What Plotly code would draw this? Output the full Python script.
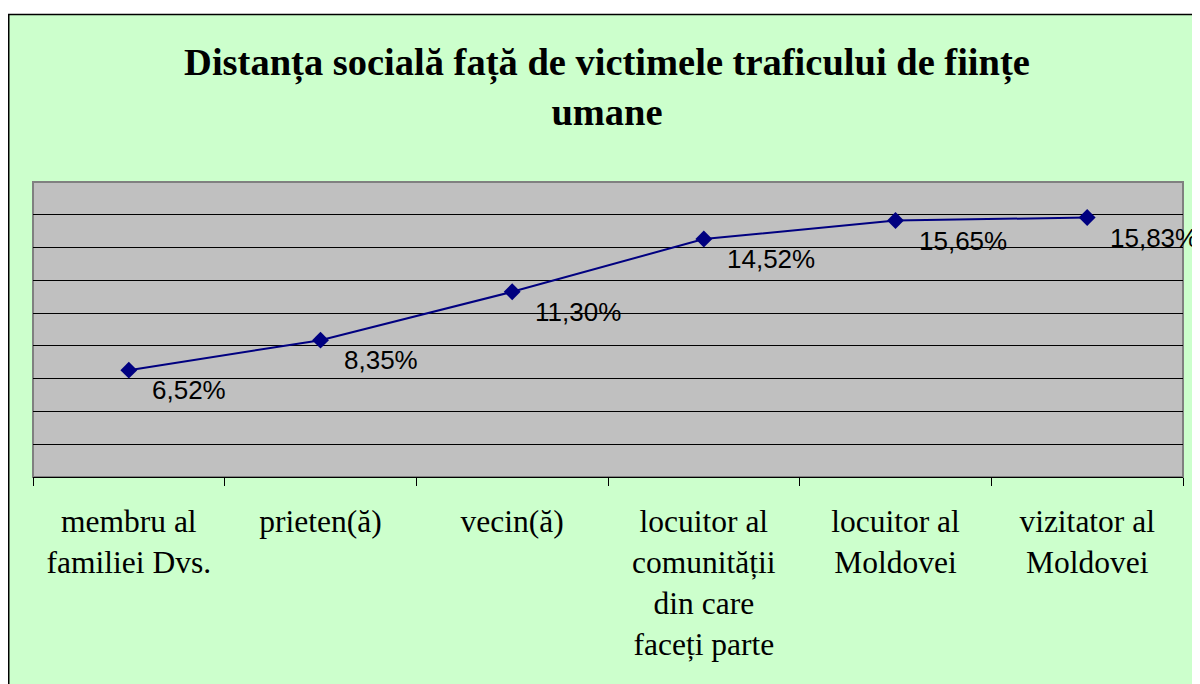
import plotly.graph_objects as go

categories = [
    "membru al<br>familiei Dvs.",
    "prieten(ă)",
    "vecin(ă)",
    "locuitor al<br>comunității<br>din care<br>faceți parte",
    "locuitor al<br>Moldovei",
    "vizitator al<br>Moldovei",
]
values = [6.52, 8.35, 11.30, 14.52, 15.65, 15.83]
title_text = "Distanța socială față de victimele traficului de ființe<br>umane"

# page has an 8px body margin; figure coords = page coords - 8
OFF = 8
W, H = 1192, 676
L = 33 - OFF
T = 182 - OFF
R = W - (1183 - OFF)
B = H - (477 - OFF)
pw, ph = W - L - R, H - T - B


def px_x(p):
    return (p - OFF - L) / pw


def px_y(p):
    return (H - B - (p - OFF)) / ph


fig = go.Figure()
fig.add_trace(go.Scatter(
    x=categories, y=values, mode="lines+markers",
    line=dict(color="#000080", width=2),
    marker=dict(symbol="diamond", size=13, color="#000080"),
    showlegend=False, hoverinfo="skip",
))

for c, v in zip(categories, values):
    fig.add_annotation(
        x=c, y=v, xref="x", yref="y",
        text=f"{v:.2f}%".replace(".", ","),
        showarrow=False, xanchor="left", yanchor="middle",
        xshift=21, yshift=-20,
        font=dict(family="Liberation Sans, Arial", size=26, color="black"),
    )

shapes = [
    dict(type="rect", xref="paper", yref="paper", layer="below",
         x0=px_x(8.75), x1=px_x(1230), y0=px_y(14.5), y1=px_y(720),
         fillcolor="#CCFFCC", line=dict(color="black", width=1.5)),
    dict(type="rect", xref="paper", yref="paper", layer="below",
         x0=0, x1=1, y0=0, y1=1,
         fillcolor="#C0C0C0", line=dict(color="#808080", width=2)),
]

fig.update_layout(
    width=W, height=H,
    margin=dict(l=L, r=R, t=T, b=B, autoexpand=False),
    paper_bgcolor="white",
    plot_bgcolor="#C0C0C0",
    shapes=shapes,
    title=dict(
        text=title_text, x=(607 - OFF) / W, xanchor="center", xref="container",
        y=1 - 67 / H, yanchor="middle", yref="container", automargin=False,
        font=dict(family="Liberation Serif, Times New Roman", size=38.5, color="black", weight="bold"),
    ),
    xaxis=dict(
        type="category", tickson="boundaries", ticks="outside", ticklen=8,
        tickcolor="black", tickwidth=1, showgrid=False, automargin=False,
        showline=True, linecolor="black", linewidth=1,
        tickfont=dict(family="Liberation Serif, Times New Roman", size=31.5, color="black"),
        ticklabelstandoff=16,
        range=[-0.5, 5.5],
    ),
    yaxis=dict(
        range=[0, 18], dtick=2, showgrid=True, gridcolor="black", gridwidth=1,
        showticklabels=False, zeroline=False, ticks="", automargin=False,
    ),
)

fig.write_html("out.html")
